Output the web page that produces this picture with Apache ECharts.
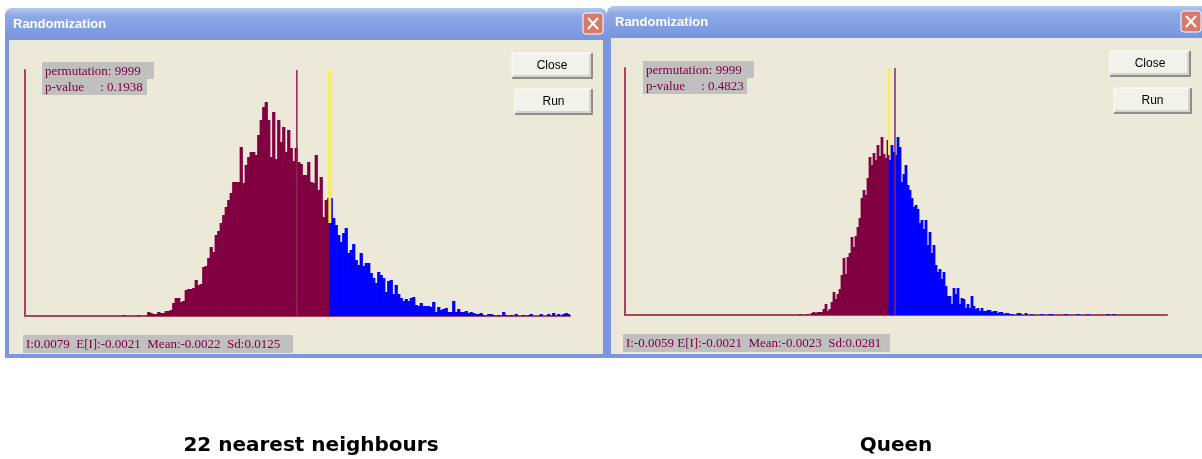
<!DOCTYPE html>
<html><head><meta charset="utf-8">
<script src="https://cdn.jsdelivr.net/npm/echarts/dist/echarts.min.js"></script>
<style>html,body{margin:0;padding:0;background:#fff;}#c{width:1202px;height:459px;}</style>
</head><body><div id="c"></div><script>
// ---------- data: left (22 nearest neighbours) ----------
const L_COUNTS = [
0,0,0,0,0,0,0,0,0,0, 0,0,0,0,0,0,0,0,0,0, 0,0,0,0,0,0,0,0,0,0, 0,0,0,0,0,0,0,0,0,
1,0,0,0,0,0,1,0,0,0,
4,3,2,2,4,3,3,5,5,6, 13,18,18,14,15,26,27,27,28,36, 31,32,49,50,58,69,64,81,85,93,
101,109,116,123,134,134,134,169,133,151, 159,164,164,161,181,196,209,214,196,159,
204,157,196,174,189,164,186,168,155,168, 154,152,141,141,154,134,133,161,126,139,
99,116,118,
118,98,91,81,74,83,88,63,66,72, 56,51,63,50,53,53,43,38,33,44, 41,38,24,35,36,22,31,22,18,15,
17,15,18,19,11,10,13,10,10,10, 9,14,4,9,6,7,8,4,4,15, 4,7,4,4,5,3,4,3,2,2,
3,1,0,2,2,1,0,1,0,4, 1,0,1,0,2,0,0,1,0,1, 2,0,0,0,2,0,0,2,0,3, 0,2,0,2,3,2
];
const L_RANGE = [-0.0854, 0.0814];
const L_STATS = [0.0079, -0.0021, -0.0022, 0.0125];   // I, E[I], Mean, Sd
const L_PERM = [9999, 0.1938];                        // permutations, p-value
const L_OBS_LOW = 93;

// ---------- data: right (Queen) ----------
const R_COUNTS = [
0,0,0,0,0,0,0,0,0,0, 0,0,0,0,0,0,0,0,0,0, 0,0,0,0,0,0,0,0,0,0, 0,0,0,0,0,0,0,0,0,0,
0,0,0,0,0,0,0,0,0,0, 0,0,0,0,0,0,0,0,0,0, 0,0,0,0,0,0,0,0,0,0, 0,0,0,0,0,0,0,0,0,0,
0,0,0,0,0,0,0,
1,0,0,0,1,0,2,3,2,3, 3,3,6,11,4,6,13,23,16,21, 26,40,57,41,58,62,78,68,79,88,
97,117,125,120,137,158,150,162,155,170, 159,178,161,157,175,
155,170,163,160,178,168,133,141,150,130, 125,117,108,110,106,92,95,86,95,70,
83,62,70,50,43,46,36,43,29,19, 19,11,27,21,27,11,17,16,7,11,
7,19,9,6,7,4,7,4,4,5, 5,3,4,4,2,3,3,1,2,2, 1,1,0,0,2,2,0,0,2,0,
0,1,0,0,0,0,1,0,0,0, 1,1,0,0,0,0,0,0,1,0, 0,0,0,0,1,0,0,0,0,1,
0,0,0,0,0,0,0,0,0,1, 0,0,1,0,0,0,0,0,0,0,
0,0,0,0,0,0,0,0,0,0, 0,0,0,0,0,0,0,0,0
];
const R_RANGE = [-0.1643, 0.1609];
const R_STATS = [-0.0059, -0.0021, -0.0023, 0.0281];
const R_PERM = [9999, 0.4823];
const R_OBS_LOW = 160;

const CAPTIONS = ['22 nearest neighbours', 'Queen'];
const WIN_TITLE = 'Randomization';
const BUTTONS = ['Close', 'Run'];

// ---------- styling ----------
const MAROON = '#800040', BLUE = '#0000FF', YELLOW = '#F7F04C', MEANC = '#8E2450';
const AXISC = '#A04860', BODY = '#ECE9D8', FRAME = '#7B97DF', TXT = '#800040', HL = '#C0C0C0';
const SERIF = '"Liberation Serif", "Times New Roman", serif';

function obsBin(counts, range, iobs) {
  return Math.round((iobs - range[0]) / (range[1] - range[0]) * counts.length);
}
function fmt(v) { return v.toFixed(4); }

function chrome(x, y, w, h) {
  const grad = new echarts.graphic.LinearGradient(0, 0, 0, 1, [
    {offset: 0, color: '#B5C8F2'}, {offset: 0.25, color: '#8EA8E6'},
    {offset: 1, color: '#7895DD'}]);
  return [
    {type: 'rect', z: 0, shape: {x: x, y: y, width: w, height: h, r: [8, 8, 0, 0]}, style: {fill: FRAME}},
    {type: 'rect', z: 1, shape: {x: x, y: y, width: w, height: 32, r: [8, 8, 0, 0]}, style: {fill: grad}},
    {type: 'rect', z: 1, shape: {x: x + 4, y: y + 32, width: w - 8, height: h - 36}, style: {fill: BODY}},
    {type: 'text', z: 2, x: x + 8, y: y + 16, style: {text: WIN_TITLE, fill: '#FFFFFF',
      font: 'bold 13px "Liberation Sans", Arial, sans-serif', align: 'left', verticalAlign: 'middle',
      textAlign: 'left', textVerticalAlign: 'middle'}}
  ];
}
function closeBox(x, y) {
  return [
    {type: 'rect', z: 3, shape: {x: x, y: y, width: 20, height: 21, r: 3}, style: {fill: '#D8796A', stroke: '#FFFFFF', lineWidth: 1}},
    {type: 'line', z: 4, shape: {x1: x + 5, y1: y + 5, x2: x + 15, y2: y + 16}, style: {stroke: '#FFFFFF', lineWidth: 2}},
    {type: 'line', z: 4, shape: {x1: x + 15, y1: y + 5, x2: x + 5, y2: y + 16}, style: {stroke: '#FFFFFF', lineWidth: 2}}
  ];
}
function button(x, y, w, h, label) {
  return [
    {type: 'rect', z: 3, shape: {x: x, y: y, width: w, height: h}, style: {fill: '#F2F1EA'}},
    {type: 'polyline', z: 4, shape: {points: [[x, y + h], [x, y], [x + w, y]]}, style: {stroke: '#FFFFFF', lineWidth: 1, fill: null}},
    {type: 'polyline', z: 4, shape: {points: [[x + w, y], [x + w, y + h], [x, y + h]]}, style: {stroke: '#6F6F6F', lineWidth: 1.5, fill: null}},
    {type: 'polyline', z: 4, shape: {points: [[x + w - 2, y + 1], [x + w - 2, y + h - 2], [x + 1, y + h - 2]]}, style: {stroke: '#B8B8B0', lineWidth: 1, fill: null}},
    {type: 'text', z: 5, x: x + w / 2, y: y + h / 2, style: {text: label, fill: '#000',
      font: '12px "Liberation Sans", Arial, sans-serif', align: 'center', verticalAlign: 'middle',
      textAlign: 'center', textVerticalAlign: 'middle'}}
  ];
}
function hlText(x, y, w, h, text) {
  return [
    {type: 'rect', z: 10, shape: {x: x, y: y, width: w, height: h}, style: {fill: HL}},
    {type: 'text', z: 11, x: x + 3, y: y + h / 2 + 1, style: {text: text, fill: TXT, font: '13px ' + SERIF,
      align: 'left', verticalAlign: 'middle', textAlign: 'left', textVerticalAlign: 'middle'}}
  ];
}
function caption(x, y, text) {
  return {type: 'text', z: 2, x: x, y: y, style: {text: text, fill: '#000',
    font: 'bold 20px "DejaVu Sans", Arial, sans-serif', align: 'center', verticalAlign: 'middle',
    textAlign: 'center', textVerticalAlign: 'middle'}};
}

const elements = [].concat(
  chrome(5, 8, 602, 350), closeBox(583, 13),
  chrome(607, 6, 602, 352), closeBox(1181, 11),
  button(512, 53, 80, 25, BUTTONS[0]), button(515, 89, 77, 25, BUTTONS[1]),
  button(1110, 51, 80, 25, BUTTONS[0]), button(1114, 88, 77, 25, BUTTONS[1]),
  hlText(42, 62, 112, 17, 'permutation: ' + L_PERM[0]),
  hlText(42, 79, 105, 16, 'p-value     : ' + L_PERM[1].toFixed(4)),
  hlText(23, 335, 270, 18, 'I:' + fmt(L_STATS[0]) + '  E[I]:' + fmt(L_STATS[1]) + '  Mean:' + fmt(L_STATS[2]) + '  Sd:' + fmt(L_STATS[3])),
  hlText(643, 61, 111, 17, 'permutation: ' + R_PERM[0]),
  hlText(643, 78, 104, 16, 'p-value     : ' + R_PERM[1].toFixed(4)),
  hlText(623, 334, 267, 18, 'I:' + fmt(R_STATS[0]) + ' E[I]:' + fmt(R_STATS[1]) + '  Mean:' + fmt(R_STATS[2]) + '  Sd:' + fmt(R_STATS[3])),
  [caption(311, 446, CAPTIONS[0]), caption(896, 446, CAPTIONS[1])]
);

function barData(counts, split) {
  return counts.map((v, i) => ({value: v, itemStyle: {color: i >= split ? BLUE : MAROON}}));
}
const lSplit = obsBin(L_COUNTS, L_RANGE, L_STATS[0]);
const rSplit = obsBin(R_COUNTS, R_RANGE, R_STATS[0]);
const L_YMAX = 246, R_YMAX = 247;

function catAxis(grid, n) {
  return {type: 'category', gridIndex: grid, z: 1.5, data: Array.from({length: n}, (_, i) => i), boundaryGap: true,
    axisLine: {show: true, lineStyle: {color: AXISC, width: 2}}, axisTick: {show: false}, axisLabel: {show: false}, splitLine: {show: false}};
}
function valXAxis(grid, range) {
  return {type: 'value', gridIndex: grid, min: range[0], max: range[1], show: false};
}
function yAxis(grid, max) {
  return {type: 'value', gridIndex: grid, z: 1.5, min: 0, max: max,
    axisLine: {show: true, onZero: false, lineStyle: {color: AXISC, width: 2}}, axisTick: {show: false}, axisLabel: {show: false}, splitLine: {show: false}};
}
function vline(xi, yi, pts, color, width) {
  return {type: 'line', xAxisIndex: xi, yAxisIndex: yi, data: pts, symbol: 'none', z: 5,
    lineStyle: {color: color, width: width}, silent: true};
}

const chart = echarts.init(document.getElementById('c'), null, {renderer: 'canvas'});
chart.setOption({
  animation: false,
  backgroundColor: '#FFFFFF',
  graphic: {elements: elements},
  grid: [
    {left: 25, top: 70, width: 545, height: 246},
    {left: 625, top: 68, width: 542, height: 247}
  ],
  xAxis: [catAxis(0, L_COUNTS.length), valXAxis(0, L_RANGE), catAxis(1, R_COUNTS.length), valXAxis(1, R_RANGE)],
  yAxis: [yAxis(0, L_YMAX), yAxis(1, R_YMAX)],
  series: [
    {type: 'bar', xAxisIndex: 0, yAxisIndex: 0, data: barData(L_COUNTS, lSplit), barWidth: '130%', silent: true},
    vline(1, 0, [[L_STATS[2], 0], [L_STATS[2], L_YMAX]], MEANC, 1.5),
    vline(1, 0, [[L_STATS[0], L_YMAX], [L_STATS[0], L_OBS_LOW]], YELLOW, 3),
    {type: 'bar', xAxisIndex: 2, yAxisIndex: 1, data: barData(R_COUNTS, rSplit), barWidth: '140%', silent: true},
    vline(3, 1, [[R_STATS[2], 0], [R_STATS[2], R_YMAX]], MEANC, 1.5),
    vline(3, 1, [[R_STATS[0], R_YMAX], [R_STATS[0], R_OBS_LOW]], YELLOW, 2)
  ]
});
</script></body></html>
